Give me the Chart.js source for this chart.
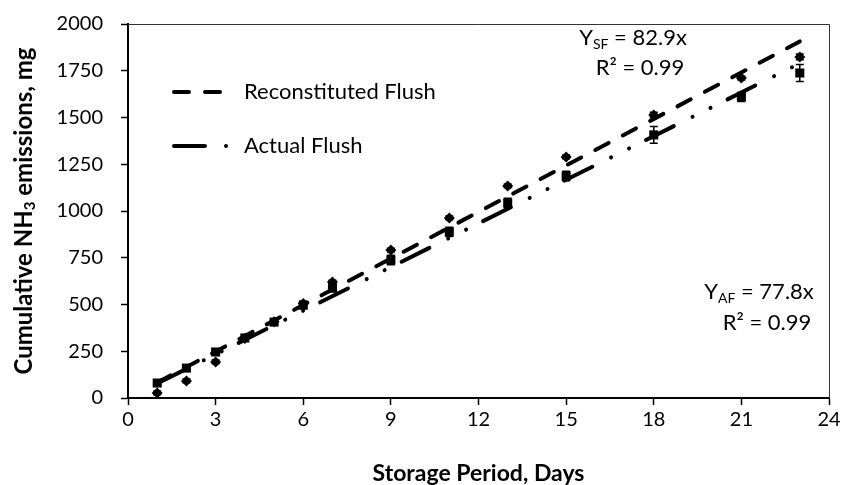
<!DOCTYPE html>
<html>
<head>
<meta charset="utf-8">
<script src="https://cdn.jsdelivr.net/npm/chart.js@4.4.0/dist/chart.umd.min.js"></script>
<style>
  html, body { margin: 0; padding: 0; background: #fff; }
  #wrap { width: 842px; height: 485px; }
</style>
</head>
<body>
<div id="wrap"><canvas id="chart" width="842" height="485"></canvas></div>
<script>
/* storage days and cumulative NH3 (mg) */
const days = [1, 2, 3, 4, 5, 6, 7, 9, 11, 13, 15, 18, 21, 23];
const sfValues = [27, 91, 193, 318, 408, 505, 620, 791, 963, 1134, 1289, 1513, 1711, 1824];
const sfErrors = [10, 10, 10, 10, 10, 10, 10, 10, 10, 10, 10, 15, 10, 15];
const afValues = [80, 160, 246, 321, 406, 497, 588, 738, 888, 1043, 1187, 1407, 1610, 1738];
const afErrors = [12, 12, 12, 15, 15, 20, 20, 25, 25, 25, 25, 45, 25, 45];

/* fitted slopes (through origin) */
const sfSlope = 82.9;
const afSlope = 77.8;
const r2Text = "R² = 0.99";

const xTicks = [0, 3, 6, 9, 12, 15, 18, 21, 24];
const yTicks = [0, 250, 500, 750, 1000, 1250, 1500, 1750, 2000];

const FONT = "Lato";
const sfDash = [15, 16];
const afDash = [31, 21, 0.01, 20, 0.01, 19];

const toPoints = (xs, ys) => xs.map((x, i) => ({ x: x, y: ys[i] }));
const firstDay = days[0];
const lastDay = days[days.length - 1];

/* =============================
   ERROR BARS
============================= */
const errorBars = {
    id: "errorBars",
    afterDatasetsDraw(chart) {
        const ctx = chart.ctx;
        const y = chart.scales.y;
        const sets = [[0, sfErrors], [1, afErrors]];
        ctx.save();
        ctx.strokeStyle = "#000";
        ctx.lineWidth = 1.5;
        sets.forEach(([idx, errs]) => {
            const meta = chart.getDatasetMeta(idx);
            meta.data.forEach((pt, i) => {
                const v = chart.data.datasets[idx].data[i].y;
                const top = y.getPixelForValue(v + errs[i]);
                const bot = y.getPixelForValue(v - errs[i]);
                ctx.beginPath();
                ctx.moveTo(pt.x, top); ctx.lineTo(pt.x, bot);
                ctx.moveTo(pt.x - 4, top); ctx.lineTo(pt.x + 4, top);
                ctx.moveTo(pt.x - 4, bot); ctx.lineTo(pt.x + 4, bot);
                ctx.stroke();
            });
        });
        ctx.restore();
    }
};

/* =============================
   FRAME, LEGEND, LABELS
============================= */
function drawSub(ctx, parts, x, y, big, small, drop) {
    // parts: [text, isSub], centred on x
    let w = 0;
    parts.forEach(([t, sub]) => { ctx.font = sub ? small : big; w += ctx.measureText(t).width; });
    let cx = x - w / 2;
    parts.forEach(([t, sub]) => {
        ctx.font = sub ? small : big;
        ctx.fillText(t, cx, sub ? y + drop : y);
        cx += ctx.measureText(t).width;
    });
}

const decorations = {
    id: "decorations",
    afterDraw(chart) {
        const ctx = chart.ctx;
        const a = chart.chartArea;
        ctx.save();

        /* thin top/right frame */
        ctx.strokeStyle = "#333";
        ctx.lineWidth = 1;
        ctx.beginPath();
        ctx.moveTo(a.left, a.top + 0.5);
        ctx.lineTo(a.right + 0.5, a.top + 0.5);
        ctx.lineTo(a.right + 0.5, a.bottom);
        ctx.stroke();

        /* legend */
        ctx.strokeStyle = "#000";
        ctx.lineWidth = 4;
        ctx.lineCap = "round";
        ctx.setLineDash(sfDash);
        ctx.beginPath(); ctx.moveTo(174, 92); ctx.lineTo(226, 92); ctx.stroke();
        ctx.setLineDash(afDash);
        ctx.beginPath(); ctx.moveTo(174, 146); ctx.lineTo(228, 146); ctx.stroke();
        ctx.setLineDash([]);

        ctx.fillStyle = "#000";
        ctx.textBaseline = "middle";
        ctx.textAlign = "left";
        ctx.font = "22px " + FONT;
        ctx.fillText("Reconstituted Flush", 244, 92);
        ctx.fillText("Actual Flush", 244, 146);

        /* regression labels */
        const big = "22px " + FONT, small = "14px " + FONT;
        drawSub(ctx, [["Y", false], ["SF", true], [" = " + sfSlope.toFixed(1) + "x", false]], 633, 38, big, small, 6);
        drawSub(ctx, [[r2Text, false]], 640, 68, big, small, 6);
        drawSub(ctx, [["Y", false], ["AF", true], [" = " + afSlope.toFixed(1) + "x", false]], 759, 292, big, small, 6);
        drawSub(ctx, [[r2Text, false]], 767, 323, big, small, 6);

        /* y axis title with subscript */
        ctx.translate(24, (a.top + a.bottom) / 2);
        ctx.rotate(-Math.PI / 2);
        drawSub(ctx, [["Cumulative NH", false], ["3", true], [" emissions, mg", false]], 0, 0,
            "bold 24px " + FONT, "bold 15px " + FONT, 6);
        ctx.restore();
    }
};

const gridOpts = {
    display: true,
    drawOnChartArea: false,
    drawTicks: true,
    tickLength: 7,
    tickWidth: 1.5,
    tickColor: "#000"
};

new Chart(document.getElementById("chart"), {
    type: "scatter",
    data: {
        datasets: [
            {
                label: "Reconstituted Flush",
                data: toPoints(days, sfValues),
                pointStyle: "rectRot",
                pointRadius: 5.5,
                backgroundColor: "#000",
                borderColor: "#000",
                borderWidth: 0,
                showLine: false
            },
            {
                label: "Actual Flush",
                data: toPoints(days, afValues),
                pointStyle: "rect",
                pointRadius: 6.4,
                backgroundColor: "#000",
                borderColor: "#000",
                borderWidth: 0,
                showLine: false
            },
            {
                label: "SF trend",
                data: [{ x: firstDay, y: sfSlope * firstDay }, { x: lastDay, y: sfSlope * lastDay }],
                showLine: true,
                pointRadius: 0,
                borderColor: "#000",
                borderWidth: 4,
                borderDash: sfDash,
                borderCapStyle: "round"
            },
            {
                label: "AF trend",
                data: [{ x: firstDay, y: afSlope * firstDay }, { x: lastDay, y: afSlope * lastDay }],
                showLine: true,
                pointRadius: 0,
                borderColor: "#000",
                borderWidth: 4,
                borderDash: afDash,
                borderCapStyle: "round"
            }
        ]
    },
    options: {
        responsive: false,
        devicePixelRatio: 1,
        animation: false,
        layout: { padding: { left: 0, right: 13, top: 24, bottom: 0 } },
        plugins: {
            legend: { display: false },
            tooltip: { enabled: false }
        },
        scales: {
            x: {
                type: "linear",
                min: 0,
                max: 24,
                afterBuildTicks: s => { s.ticks = xTicks.map(v => ({ value: v })); },
                afterFit: s => { s.height = 87; s.paddingLeft = 0; s.paddingRight = 0; },
                grid: gridOpts,
                border: { display: true, color: "#000", width: 2 },
                ticks: { color: "#000", font: { family: FONT, size: 20 }, padding: 3, maxRotation: 0,
                         callback: v => String(v) },
                title: {
                    display: true,
                    text: "Storage Period, Days",
                    color: "#000",
                    font: { family: FONT, size: 23, weight: "bold", lineHeight: 1 },
                    padding: { top: 0, bottom: 0 }
                }
            },
            y: {
                type: "linear",
                min: 0,
                max: 2000,
                afterBuildTicks: s => { s.ticks = yTicks.map(v => ({ value: v })); },
                afterFit: s => { s.width = 128; s.paddingTop = 0; s.paddingBottom = 0; },
                grid: gridOpts,
                border: { display: true, color: "#000", width: 2 },
                ticks: { color: "#000", font: { family: FONT, size: 20 }, padding: 18,
                         callback: v => String(v) }
            }
        }
    },
    plugins: [errorBars, decorations]
});
</script>
</body>
</html>
